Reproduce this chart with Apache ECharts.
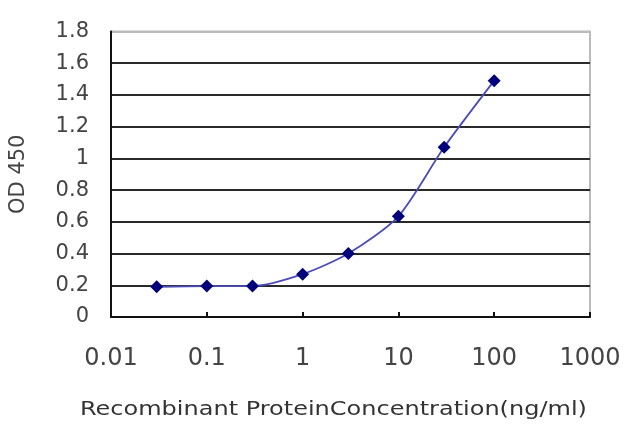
<!DOCTYPE html>
<html>
<head>
<meta charset="utf-8">
<script src="https://cdn.jsdelivr.net/npm/echarts@6/dist/echarts.min.js"></script>
<style>
  html, body { margin: 0; padding: 0; background: #fff; }
  #chart { width: 640px; height: 427px; }
</style>
</head>
<body>
<div id="chart"></div>
<script>
var concentration = [0.03, 0.1, 0.3, 1, 3, 10, 30, 100];
var od450 = [0.19, 0.195, 0.195, 0.27, 0.40, 0.635, 1.07, 1.49];
var xTicks = [0.01, 0.1, 1, 10, 100, 1000];

var points = concentration.map(function (c, i) { return [c, od450[i]]; });

// split line colours, bottom (0) to top (1.8); the top one is paler
var gridColors = ['#222', '#2a2a2a', '#2a2a2a', '#2a2a2a', '#2a2a2a', '#2a2a2a', '#2a2a2a', '#2a2a2a', '#2a2a2a', '#bbb'];

var myChart = echarts.init(document.getElementById('chart'));
var option = {
    animation: false,
    textStyle: { fontFamily: 'DejaVu Sans' },
    graphic: [{
        type: 'text',
        left: 80,
        top: 400,
        scaleX: 1.2,
        style: {
            text: 'Recombinant ProteinConcentration(ng/ml)',
            font: '20px "DejaVu Sans"',
            fill: '#333'
        }
    }],
    grid: {
        left: 110, right: 50, top: 31.5, bottom: 110,
        show: true, borderColor: '#bbb', borderWidth: 2, backgroundColor: '#fff'
    },
    xAxis: {
        type: 'log',
        logBase: 10,
        min: 0.01,
        max: 1000,
        axisLine: { lineStyle: { color: '#111', width: 2 } },
        axisTick: { show: true, inside: true, length: 5, lineStyle: { color: '#111', width: 2 } },
        splitLine: { show: false },
        axisLabel: {
            margin: 30,
            fontSize: 24,
            color: '#444',
            formatter: function (v) {
                return xTicks.indexOf(v) >= 0 ? String(v) : '';
            }
        }
    },
    yAxis: {
        type: 'value',
        min: 0,
        max: 1.8,
        interval: 0.2,
        name: 'OD 450',
        nameLocation: 'middle',
        nameGap: 82,
        nameTextStyle: { fontSize: 21, color: '#444' },
        axisLine: { show: true, lineStyle: { color: '#111', width: 2 } },
        axisTick: { show: false },
        splitLine: { show: true, lineStyle: { color: gridColors, width: 2 } },
        axisLabel: {
            margin: 22,
            fontSize: 21,
            color: '#444',
            formatter: function (v) { return String(Math.round(v * 10) / 10); }
        }
    },
    series: [{
        type: 'line',
        data: points,
        smooth: 0.25,
        symbol: 'diamond',
        symbolSize: 13,
        itemStyle: { color: '#00007a' },
        lineStyle: { color: '#4c4cb8', width: 1.8 }
    }]
};
myChart.setOption(option);
</script>
</body>
</html>
